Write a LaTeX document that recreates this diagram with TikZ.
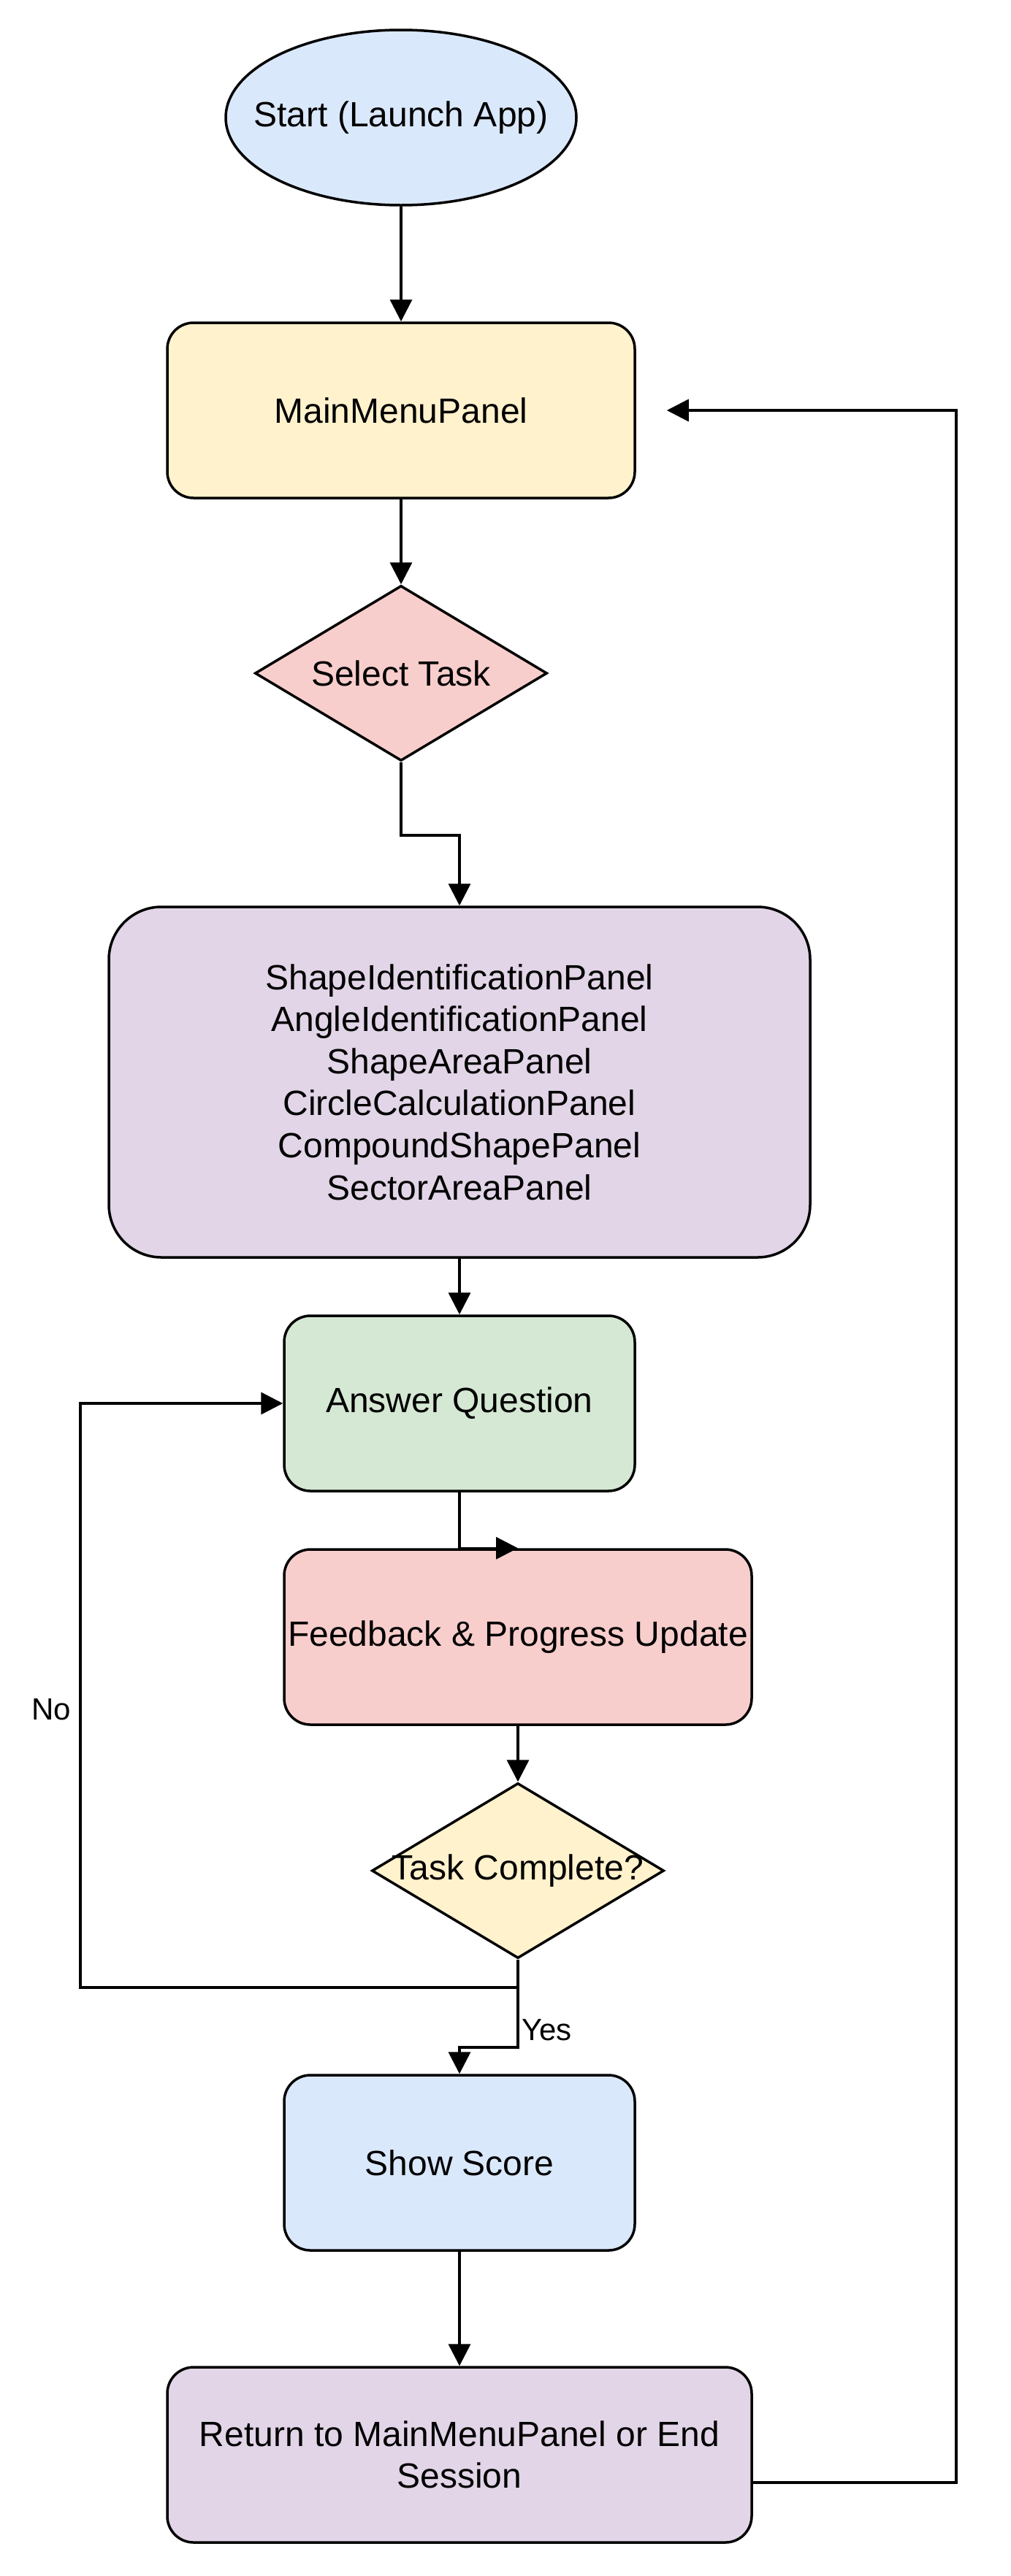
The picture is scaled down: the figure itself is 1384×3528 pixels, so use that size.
\documentclass[tikz,border=0pt]{standalone}
\usepackage{fontspec}
\setmainfont{Liberation Sans}
\usetikzlibrary{shapes.geometric,arrows.meta}
\definecolor{cblue}{HTML}{DAE8FC}
\definecolor{cyellow}{HTML}{FFF2CC}
\definecolor{cred}{HTML}{F8CECC}
\definecolor{cpurple}{HTML}{E1D5E7}
\definecolor{cgreen}{HTML}{D5E8D4}
\tikzset{
  basefont/.style={font=\fontsize{24pt}{28.8pt}\selectfont},
  box/.style={basefont, draw=black, line width=1.75pt, rounded corners=18pt, inner sep=0pt, align=center, minimum height=120pt},
  dia/.style={basefont, draw=black, line width=1.75pt, shape=diamond, inner sep=0pt, minimum width=200pt, minimum height=120pt},
  ell/.style={basefont, draw=black, line width=1.75pt, shape=ellipse, inner sep=0pt, minimum width=240pt, minimum height=120pt},
  arr/.style={line width=1.75pt, -{Triangle[length=15pt,width=15pt]}},
  lbl/.style={font=\fontsize{21pt}{25pt}\selectfont, inner sep=0pt}
}
\begin{document}
\begin{tikzpicture}[x=0.5pt,y=-0.5pt]
\useasboundingbox (0,0) rectangle (1384,3528);
\node[ell, fill=cblue, label={[basefont]center:Start (Launch App)}] (start) at (549,161) {};
\node[box, fill=cyellow, minimum width=320pt] (mm) at (549,562) {MainMenuPanel};
\node[dia, fill=cred, label={[basefont]center:Select Task}] (sel) at (549,922) {};
\node[box, fill=cpurple, minimum width=480pt, minimum height=240pt, rounded corners=36pt] (panels) at (629,1482)
  {ShapeIdentificationPanel\\AngleIdentificationPanel\\ShapeAreaPanel\\CircleCalculationPanel\\CompoundShapePanel\\SectorAreaPanel};
\node[box, fill=cgreen, minimum width=240pt] (aq) at (629,1922) {Answer Question};
\node[box, fill=cred, minimum width=320pt] (fb) at (709,2242) {Feedback \& Progress Update};
\node[dia, fill=cyellow, label={[basefont]center:Task Complete?}] (tc) at (709,2562) {};
\node[box, fill=cblue, minimum width=240pt] (ss) at (629,2962) {Show Score};
\node[box, fill=cpurple, minimum width=400pt] (ret) at (629,3362) {Return to MainMenuPanel or End\\Session};

\node[lbl] (no) at (70,2341) {No};
\node[lbl, anchor=west] (yes) at (714,2780) {Yes};
\coordinate (nocorner) at (110,2722);

\draw[arr] (start.south) -- (mm.north);
\draw[arr] (mm.south) -- (sel.north);
\draw[arr] (sel.south) -- ++(0,100) -| (panels.north);
\draw[arr] (panels.south) -- (aq.north);
\draw[arr] (aq.south) |- (fb.north);
\draw[arr] (fb.south) -- (tc.north);
\draw[arr] (tc.south) -- (tc.south |- nocorner) -- (nocorner) |- (aq.west);
\draw[arr] (tc.south) -- ++(0,120) -| (ss.north);
\draw[arr] (ss.south) -- (ret.north);
\draw[arr] ([yshift=-19pt]ret.east) -- ++(278,0) |- ([xshift=21pt]mm.east);
\end{tikzpicture}
\end{document}
